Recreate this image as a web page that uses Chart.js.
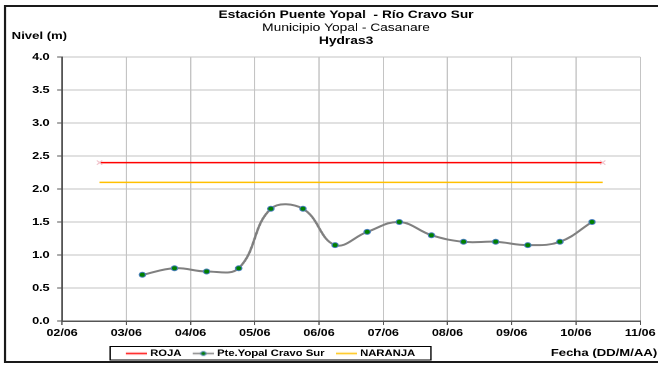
<!DOCTYPE html>
<html>
<head>
<meta charset="utf-8">
<script src="https://cdn.jsdelivr.net/npm/chart.js@4.4.1/dist/chart.umd.min.js"></script>
<style>
html,body{margin:0;padding:0;background:#fff;overflow:hidden}
</style>
</head>
<body>
<canvas id="c" width="526" height="365" style="display:block;width:658px;height:365px"></canvas>
<script>
// ---- data ----
const titleLines = ['Estación Puente Yopal  - Río Cravo Sur', 'Municipio Yopal - Casanare', 'Hydras3'];
const yAxisTitle = 'Nivel (m)';
const xAxisTitle = 'Fecha (DD/M/AA)';
const dayLabels = ['02/06','03/06','04/06','05/06','06/06','07/06','08/06','09/06','10/06','11/06'];
const seriesNames = ['ROJA', 'Pte.Yopal Cravo Sur', 'NARANJA'];
const readingTimes = ['03/06 06:00','03/06 18:00','04/06 06:00','04/06 18:00','05/06 06:00','05/06 18:00',
  '06/06 06:00','06/06 18:00','07/06 06:00','07/06 18:00','08/06 06:00','08/06 18:00','09/06 06:00','09/06 18:00','10/06 06:00'];
const levels = [0.7, 0.8, 0.75, 0.8, 1.7, 1.7, 1.15, 1.35, 1.5, 1.3, 1.2, 1.2, 1.15, 1.2, 1.5];
const thresholdTimes = ['02/06 14:00', '10/06 10:00'];
const rojaLevels = [2.4, 2.4];
const naranjaLevels = [2.1, 2.1];

// day offset from 02/06 00:00
function dayOffset(s) {
  const [d, t] = s.split(' ');
  const [h, m] = t.split(':').map(Number);
  return dayLabels.indexOf(d) + (h + m / 60) / 24;
}
const toPoints = (times, vals) => times.map((t, i) => ({x: dayOffset(t), y: vals[i]}));

Chart.defaults.font.family = "'Liberation Sans', Arial, sans-serif";
Chart.defaults.color = '#000';

function makeSymbol(color, withMarker) {
  const c = document.createElement('canvas');
  c.width = 17; c.height = 7;
  const g = c.getContext('2d');
  g.strokeStyle = color; g.lineWidth = 1.5;
  g.beginPath(); g.moveTo(0, 3.5); g.lineTo(17, 3.5); g.stroke();
  if (withMarker) {
    g.beginPath(); g.arc(8.5, 3.5, 2, 0, Math.PI * 2);
    g.fillStyle = '#008000'; g.fill();
    g.strokeStyle = '#4a7ebb'; g.lineWidth = 1; g.stroke();
  }
  return c;
}
const legendSymbols = [makeSymbol('#ff0000', false), makeSymbol('#808080', true), makeSymbol('#ffc000', false)];

const framePlugin = {
  id: 'frame',
  beforeDraw(chart) {
    const ctx = chart.ctx;
    ctx.save();
    ctx.fillStyle = '#fff';
    ctx.fillRect(0, 0, chart.width, chart.height);
    ctx.restore();
  },
  afterLayout(chart) {
    const lg = chart.legend;
    lg.left = 91.5; lg.right = 345; lg.top = 338; lg.bottom = 362;
    lg.width = lg.right - lg.left; lg.height = lg.bottom - lg.top;
  },
  afterDraw(chart) {
    const ctx = chart.ctx;
    ctx.save();
    // outer frame
    ctx.strokeStyle = '#1a1a1a';
    ctx.lineWidth = 2;
    ctx.strokeRect(4, 6, 600, 356);
    // titles
    ctx.fillStyle = '#000';
    ctx.textAlign = 'center';
    ctx.textBaseline = 'middle';
    const fam = "'Liberation Sans', Arial, sans-serif";
    ctx.font = 'bold 11px ' + fam;
    ctx.fillText(titleLines[0], 276.6, 15);
    ctx.font = '11px ' + fam;
    ctx.fillText(titleLines[1], 276.6, 28);
    ctx.font = 'bold 11px ' + fam;
    ctx.fillText(titleLines[2], 276.6, 41);
    ctx.textAlign = 'left';
    ctx.font = 'bold 10.5px ' + fam;
    ctx.fillText(yAxisTitle, 9.3, 36);
    ctx.fillText(xAxisTitle, 440.2, 353);
    // legend border
    ctx.strokeStyle = '#000';
    ctx.lineWidth = 1;
    ctx.strokeRect(88, 346.5, 256.5, 13.5);
    ctx.restore();
  }
};

new Chart(document.getElementById('c'), {
  type: 'line',
  data: {
    datasets: [
      {
        label: seriesNames[0],
        data: toPoints(thresholdTimes, rojaLevels),
        borderColor: '#ff0000',
        borderWidth: 1.5,
        pointStyle: 'crossRot',
        pointRadius: 3,
        pointBorderColor: '#f2c4cc',
        pointBorderWidth: 1,
        fill: false
      },
      {
        label: seriesNames[1],
        data: toPoints(readingTimes, levels),
        borderColor: '#808080',
        borderWidth: 2,
        tension: 0.4,
        pointRadius: 2.5,
        pointBackgroundColor: '#008000',
        pointBorderColor: '#4a7ebb',
        pointBorderWidth: 1,
        fill: false
      },
      {
        label: seriesNames[2],
        data: toPoints(thresholdTimes, naranjaLevels),
        borderColor: '#ffc000',
        borderWidth: 1.5,
        pointRadius: 0,
        fill: false
      }
    ]
  },
  options: {
    responsive: false,
    devicePixelRatio: 2,
    animation: false,
    events: [],
    layout: { padding: { top: 57, left: 0, right: 13.6, bottom: 0 } },
    scales: {
      x: {
        type: 'linear',
        min: 0, max: 9,
        afterFit(s) { s.height = 24; },
        afterBuildTicks(s) { s.ticks = dayLabels.map((_, i) => ({value: i})); },
        ticks: {
          stepSize: 1,
          autoSkip: false,
          maxRotation: 0,
          padding: 2,
          font: { size: 10, weight: 'bold' },
          callback: (v) => dayLabels[v]
        },
        grid: { color: '#c4c4c4', lineWidth: 1, tickLength: 4, tickColor: '#555' },
        border: { color: '#555', width: 1.5 }
      },
      y: {
        min: 0, max: 4,
        afterFit(s) { s.width = 49.6; },
        ticks: {
          stepSize: 0.5,
          padding: 6,
          font: { size: 10, weight: 'bold' },
          callback: (v) => v.toFixed(1)
        },
        grid: { color: '#c4c4c4', lineWidth: 1, tickLength: 4, tickColor: '#555' },
        border: { color: '#555', width: 1.5 }
      }
    },
    plugins: {
      title: { display: false },
      tooltip: { enabled: false },
      legend: {
        display: true,
        position: 'bottom',
        align: 'start',
        maxHeight: 20,
        labels: {
          usePointStyle: true,
          pointStyleWidth: 13,
          padding: 11,
          font: { size: 9, weight: 'bold' },
          color: '#000',
          generateLabels: (chart) => chart.data.datasets.map((ds, i) => ({
            text: ds.label,
            pointStyle: legendSymbols[i],
            datasetIndex: i,
            hidden: false,
            lineWidth: 0,
            strokeStyle: 'rgba(0,0,0,0)',
            fillStyle: 'rgba(0,0,0,0)',
            fontColor: '#000'
          }))
        }
      }
    }
  },
  plugins: [framePlugin]
});
</script>
</body>
</html>
